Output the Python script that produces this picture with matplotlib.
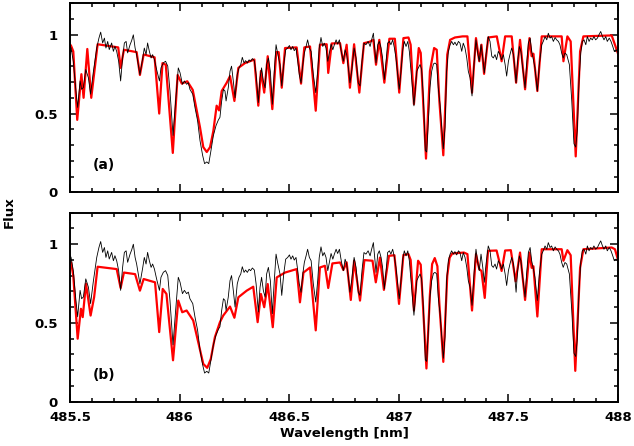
import numpy as np
import matplotlib
matplotlib.use('Agg')
import matplotlib.pyplot as plt
from matplotlib.ticker import MultipleLocator

# observed spectrum (black), same in both panels
obs_wl = [485.500, 485.505, 485.515, 485.527, 485.535, 485.546, 485.553, 485.561, 485.572, 485.584,
          485.594, 485.606, 485.622, 485.632, 485.640, 485.649, 485.657, 485.664, 485.672, 485.679,
          485.690, 485.698, 485.705, 485.713, 485.722, 485.731, 485.740, 485.748, 485.756, 485.763,
          485.774, 485.781, 485.789, 485.797, 485.804, 485.819, 485.832, 485.839, 485.847, 485.854,
          485.862, 485.870, 485.877, 485.885, 485.895, 485.908, 485.915, 485.926, 485.936, 485.946,
          485.956, 485.970, 485.982, 485.994, 486.002, 486.013, 486.022, 486.032, 486.040, 486.047,
          486.060, 486.070, 486.082, 486.093, 486.105, 486.114, 486.124, 486.133, 486.142, 486.154,
          486.166, 486.177, 486.184, 486.192, 486.200, 486.207, 486.212, 486.222, 486.230, 486.237,
          486.245, 486.253, 486.263, 486.271, 486.279, 486.286, 486.294, 486.301, 486.309, 486.317,
          486.324, 486.332, 486.341, 486.349, 486.359, 486.367, 486.374, 486.382, 486.390, 486.397,
          486.405, 486.414, 486.423, 486.432, 486.440, 486.447, 486.458, 486.466, 486.475, 486.484,
          486.493, 486.501, 486.508, 486.516, 486.523, 486.531, 486.539, 486.546, 486.554, 486.562,
          486.569, 486.577, 486.584, 486.592, 486.600, 486.610, 486.621, 486.630, 486.637, 486.645,
          486.653, 486.660, 486.668, 486.676, 486.683, 486.691, 486.699, 486.706, 486.714, 486.721,
          486.729, 486.738, 486.747, 486.755, 486.762, 486.770, 486.777, 486.785, 486.796, 486.805,
          486.815, 486.823, 486.832, 486.841, 486.850, 486.860, 486.869, 486.876, 486.884, 486.890,
          486.896, 486.904, 486.911, 486.919, 486.926, 486.934, 486.942, 486.949, 486.957, 486.964,
          486.972, 486.980, 486.987, 486.995, 487.002, 487.010, 487.018, 487.025, 487.033, 487.041,
          487.048, 487.057, 487.069, 487.082, 487.089, 487.097, 487.104, 487.112, 487.121, 487.127,
          487.135, 487.142, 487.150, 487.158, 487.165, 487.173, 487.180, 487.188, 487.196, 487.203,
          487.211, 487.218, 487.226, 487.234, 487.241, 487.249, 487.256, 487.264, 487.272, 487.279,
          487.287, 487.294, 487.302, 487.310, 487.317, 487.325, 487.334, 487.343, 487.352, 487.360,
          487.367, 487.375, 487.383, 487.390, 487.398, 487.408, 487.416, 487.424, 487.431, 487.439,
          487.446, 487.454, 487.462, 487.469, 487.477, 487.485, 487.492, 487.500, 487.507, 487.515,
          487.523, 487.529, 487.535, 487.542, 487.550, 487.557, 487.565, 487.576, 487.583, 487.591,
          487.599, 487.606, 487.614, 487.621, 487.632, 487.641, 487.652, 487.659, 487.667, 487.675,
          487.682, 487.690, 487.697, 487.705, 487.713, 487.720, 487.728, 487.735, 487.743, 487.750,
          487.758, 487.766, 487.778, 487.789, 487.799, 487.807, 487.814, 487.822, 487.830, 487.837,
          487.845, 487.853, 487.860, 487.868, 487.875, 487.883, 487.890, 487.898, 487.906, 487.913,
          487.921, 487.929, 487.936, 487.944, 487.951, 487.960, 487.968, 487.976, 487.983, 487.991,
          487.997]
obs_flux = [0.930, 0.916, 0.832, 0.644, 0.539, 0.707, 0.654, 0.665, 0.780, 0.727,
            0.623, 0.759, 0.916, 0.979, 1.017, 0.948, 0.979, 0.916, 0.958, 0.906,
            0.948, 0.895, 0.927, 0.895, 0.832, 0.707, 0.853, 0.948, 0.958, 0.885,
            0.937, 0.962, 1.000, 0.916, 0.874, 0.748, 0.853, 0.916, 0.874, 0.948,
            0.895, 0.853, 0.874, 0.843, 0.780, 0.707, 0.790, 0.822, 0.832, 0.801,
            0.644, 0.361, 0.581, 0.790, 0.759, 0.686, 0.707, 0.686, 0.696, 0.654,
            0.623, 0.539, 0.455, 0.329, 0.235, 0.182, 0.193, 0.182, 0.256, 0.360,
            0.423, 0.460, 0.476, 0.580, 0.654, 0.643, 0.580, 0.664, 0.769, 0.801,
            0.706, 0.601, 0.748, 0.790, 0.811, 0.857, 0.821, 0.836, 0.821, 0.841,
            0.832, 0.849, 0.836, 0.748, 0.570, 0.727, 0.790, 0.706, 0.664, 0.811,
            0.853, 0.769, 0.559, 0.769, 0.937, 0.884, 0.811, 0.675, 0.811, 0.905,
            0.916, 0.932, 0.905, 0.926, 0.899, 0.916, 0.832, 0.748, 0.695, 0.811,
            0.884, 0.926, 0.968, 0.916, 0.895, 0.748, 0.633, 0.769, 0.916, 0.983,
            0.926, 0.947, 0.916, 0.832, 0.884, 0.941, 0.905, 0.937, 0.968, 0.941,
            0.968, 0.890, 0.832, 0.905, 0.874, 0.790, 0.695, 0.769, 0.916, 0.853,
            0.695, 0.675, 0.832, 0.947, 0.937, 0.958, 0.926, 0.968, 1.010, 0.916,
            0.821, 0.937, 0.958, 0.916, 0.853, 0.716, 0.832, 0.947, 0.958, 0.937,
            0.968, 0.916, 0.853, 0.748, 0.654, 0.769, 0.905, 0.958, 0.926, 0.958,
            0.895, 0.748, 0.549, 0.769, 0.790, 0.811, 0.780, 0.601, 0.266, 0.256,
            0.455, 0.664, 0.769, 0.815, 0.821, 0.811, 0.664, 0.559, 0.412, 0.276,
            0.412, 0.769, 0.895, 0.937, 0.958, 0.937, 0.953, 0.932, 0.958, 0.947,
            0.895, 0.947, 0.916, 0.853, 0.769, 0.727, 0.612, 0.811, 0.968, 0.884,
            0.832, 0.937, 0.853, 0.758, 0.874, 0.989, 0.958, 0.864, 0.853, 0.874,
            0.842, 0.895, 0.874, 0.842, 0.874, 0.811, 0.738, 0.832, 0.874, 0.916,
            0.874, 0.790, 0.695, 0.832, 0.926, 0.895, 0.790, 0.664, 0.811, 0.947,
            0.979, 0.895, 0.842, 0.790, 0.643, 0.811, 0.937, 0.958, 0.989, 0.968,
            1.010, 0.979, 0.989, 0.958, 0.983, 0.968, 0.958, 0.937, 0.884, 0.853,
            0.884, 0.874, 0.811, 0.580, 0.308, 0.287, 0.392, 0.706, 0.884, 0.958,
            0.968, 0.937, 0.989, 0.958, 0.979, 0.968, 0.989, 0.968, 0.979, 1.000,
            1.021, 0.989, 0.968, 0.989, 0.958, 0.979, 0.958, 0.926, 0.895, 0.905,
            0.895]

# model (a)
mod_a_wl = [485.500, 485.505, 485.515, 485.533, 485.552, 485.562, 485.579, 485.597, 485.626, 485.720,
            485.731, 485.746, 485.804, 485.819, 485.836, 485.886, 485.907, 485.922, 485.937, 485.969,
            485.991, 486.010, 486.035, 486.060, 486.093, 486.108, 486.124, 486.139, 486.154, 486.169,
            486.180, 486.192, 486.215, 486.230, 486.250, 486.268, 486.298, 486.341, 486.359, 486.371,
            486.386, 486.402, 486.423, 486.441, 486.452, 486.466, 486.481, 486.534, 486.554, 486.569,
            486.595, 486.621, 486.640, 486.671, 486.678, 486.694, 486.732, 486.747, 486.762, 486.777,
            486.796, 486.820, 486.841, 486.866, 486.884, 486.896, 486.911, 486.934, 486.957, 486.982,
            487.002, 487.021, 487.044, 487.054, 487.069, 487.091, 487.100, 487.124, 487.142, 487.161,
            487.173, 487.185, 487.203, 487.221, 487.234, 487.256, 487.291, 487.313, 487.334, 487.352,
            487.367, 487.377, 487.389, 487.408, 487.447, 487.469, 487.485, 487.515, 487.535, 487.553,
            487.576, 487.596, 487.606, 487.614, 487.632, 487.652, 487.743, 487.751, 487.769, 487.784,
            487.807, 487.827, 487.842, 487.971, 487.986, 488.000]
mod_a_flux = [0.940, 0.930, 0.895, 0.460, 0.750, 0.600, 0.910, 0.600, 0.940, 0.920,
              0.790, 0.905, 0.890, 0.745, 0.875, 0.857, 0.500, 0.820, 0.810, 0.250,
              0.745, 0.690, 0.705, 0.650, 0.413, 0.287, 0.256, 0.287, 0.390, 0.550,
              0.520, 0.643, 0.696, 0.738, 0.580, 0.790, 0.820, 0.843, 0.550, 0.770,
              0.633, 0.864, 0.528, 0.890, 0.890, 0.664, 0.916, 0.920, 0.690, 0.920,
              0.926, 0.518, 0.937, 0.940, 0.758, 0.945, 0.947, 0.820, 0.937, 0.664,
              0.940, 0.633, 0.947, 0.955, 0.968, 0.810, 0.968, 0.696, 0.975, 0.975,
              0.633, 0.979, 0.983, 0.937, 0.560, 0.916, 0.885, 0.214, 0.770, 0.916,
              0.905, 0.580, 0.235, 0.874, 0.968, 0.983, 0.990, 0.990, 0.633, 0.979,
              0.832, 0.937, 0.752, 0.983, 0.990, 0.832, 0.990, 0.990, 0.696, 0.968,
              0.654, 0.979, 0.864, 0.880, 0.643, 0.990, 0.990, 0.832, 0.990, 0.958,
              0.228, 0.895, 0.990, 0.996, 0.937, 0.880]

# model (b)
mod_b_wl = [485.500, 485.505, 485.515, 485.535, 485.550, 485.558, 485.573, 485.594, 485.610, 485.626,
            485.713, 485.731, 485.746, 485.797, 485.819, 485.836, 485.888, 485.907, 485.923, 485.940,
            485.970, 485.994, 486.012, 486.032, 486.062, 486.093, 486.108, 486.126, 486.142, 486.161,
            486.184, 486.199, 486.230, 486.250, 486.268, 486.306, 486.336, 486.356, 486.371, 486.386,
            486.402, 486.425, 486.443, 486.481, 486.534, 486.549, 486.565, 486.595, 486.621, 486.640,
            486.663, 486.678, 486.697, 486.732, 486.747, 486.762, 486.781, 486.796, 486.823, 486.843,
            486.880, 486.895, 486.914, 486.932, 486.955, 486.980, 487.001, 487.021, 487.044, 487.054,
            487.069, 487.088, 487.100, 487.126, 487.142, 487.152, 487.164, 487.176, 487.185, 487.203,
            487.221, 487.232, 487.244, 487.297, 487.313, 487.334, 487.352, 487.367, 487.377, 487.392,
            487.407, 487.446, 487.469, 487.485, 487.511, 487.533, 487.553, 487.576, 487.596, 487.606,
            487.614, 487.632, 487.652, 487.743, 487.751, 487.769, 487.784, 487.805, 487.827, 487.842,
            487.971, 487.986, 488.000]
mod_b_flux = [0.890, 0.884, 0.800, 0.400, 0.590, 0.537, 0.750, 0.547, 0.663, 0.857,
              0.842, 0.722, 0.820, 0.810, 0.705, 0.779, 0.758, 0.442, 0.716, 0.684,
              0.263, 0.642, 0.568, 0.579, 0.516, 0.330, 0.240, 0.215, 0.270, 0.410,
              0.505, 0.547, 0.604, 0.533, 0.663, 0.705, 0.730, 0.505, 0.684, 0.600,
              0.747, 0.473, 0.789, 0.820, 0.842, 0.631, 0.820, 0.852, 0.453, 0.852,
              0.863, 0.722, 0.878, 0.884, 0.836, 0.885, 0.646, 0.895, 0.642, 0.899,
              0.895, 0.758, 0.915, 0.710, 0.926, 0.930, 0.621, 0.932, 0.937, 0.900,
              0.579, 0.895, 0.870, 0.211, 0.684, 0.874, 0.912, 0.860, 0.621, 0.253,
              0.800, 0.915, 0.941, 0.947, 0.937, 0.579, 0.937, 0.842, 0.830, 0.659,
              0.958, 0.960, 0.830, 0.960, 0.962, 0.764, 0.947, 0.646, 0.947, 0.850,
              0.860, 0.541, 0.968, 0.968, 0.895, 0.962, 0.930, 0.196, 0.850, 0.968,
              0.979, 0.968, 0.900]

panel_labels = ['(a)', '(b)']

plt.rcParams['font.family'] = 'DejaVu Sans'
plt.rcParams['font.weight'] = 'bold'

fig = plt.figure(figsize=(6.34, 4.46), dpi=100)
ax_a = fig.add_axes([0.1104, 0.5688, 0.8644, 0.4238])
ax_b = fig.add_axes([0.1104, 0.0993, 0.8644, 0.4238])

for ax, mwl, mfl, lab in [(ax_a, mod_a_wl, mod_a_flux, panel_labels[0]),
                          (ax_b, mod_b_wl, mod_b_flux, panel_labels[1])]:
    ax.plot(mwl, mfl, color='#ff0000', lw=1.6, zorder=2)
    ax.plot(obs_wl, obs_flux, color='black', lw=0.6, zorder=3)
    ax.set_xlim(485.5, 488)
    ax.set_ylim(0, 1.2)
    ax.xaxis.set_major_locator(MultipleLocator(0.5))
    ax.xaxis.set_minor_locator(MultipleLocator(0.1))
    ax.yaxis.set_major_locator(MultipleLocator(0.5))
    ax.yaxis.set_minor_locator(MultipleLocator(0.1))
    ax.tick_params(which='both', direction='in', top=True, right=True, width=1.1, labelsize=9.5)
    ax.tick_params(which='major', length=5.5)
    ax.tick_params(which='minor', length=3)
    ax.tick_params(axis='x', pad=7)
    ax.tick_params(axis='y', pad=9)
    for s in ax.spines.values():
        s.set_linewidth(1.4)
    ax.set_yticks([0, 0.5, 1])
    ax.set_yticklabels(['0', '0.5', '1'])
    ax.text(0.062, 0.142, lab, transform=ax.transAxes, ha='center', va='center',
            fontsize=10, fontweight='bold')

ax_a.set_xticklabels([])
ax_b.set_xticks([485.5, 486, 486.5, 487, 487.5, 488])
ax_b.set_xticklabels(['485.5', '486', '486.5', '487', '487.5', '488'])
ax_b.set_xlabel('Wavelength [nm]', fontsize=9.5, fontweight='bold', labelpad=2)
fig.text(0.014, 0.525, 'Flux', rotation=90, ha='center', va='center', fontsize=9.5, fontweight='bold')

fig.savefig('out.png', dpi=100)
